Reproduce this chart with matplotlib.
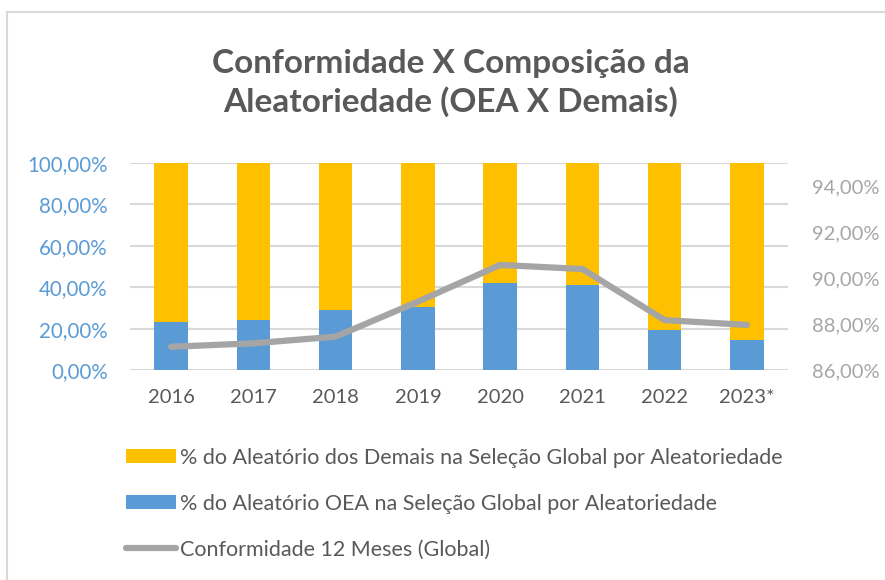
import matplotlib
matplotlib.use("Agg")
import matplotlib.pyplot as plt
from matplotlib.patches import Patch
from matplotlib.lines import Line2D
from matplotlib.ticker import FuncFormatter, FixedLocator
import numpy as np

plt.rcParams['font.family'] = ['Lato', 'DejaVu Sans']

years = ["2016", "2017", "2018", "2019", "2020", "2021", "2022", "2023*"]
oea_pct = [23.3, 24.0, 29.1, 30.4, 42.0, 41.3, 19.4, 14.3]
demais_pct = [100 - v for v in oea_pct]
conformidade = [87.01, 87.16, 87.45, 88.97, 90.57, 90.39, 88.17, 87.96]

title = "Conformidade X Composição da\nAleatoriedade (OEA X Demais)"
lbl_demais = "% do Aleatório dos Demais na Seleção Global por Aleatoriedade"
lbl_oea = "% do Aleatório OEA na Seleção Global por Aleatoriedade"
lbl_conf = "Conformidade 12 Meses (Global)"

c_yellow = "#FFC000"
c_blue = "#5B9BD5"
c_gray_line = "#A5A5A5"
c_text = "#595959"
c_grid = "#D9D9D9"

W, H = 885, 580
fig = plt.figure(figsize=(W / 100, H / 100), dpi=100)
ax = fig.add_axes([130 / W, 1 - 370 / H, (788 - 130) / W, (370 - 163) / H])

x = np.arange(len(years))
bw = 0.41
ax.bar(x, oea_pct, width=bw, color=c_blue, zorder=2)
ax.bar(x, demais_pct, width=bw, bottom=oea_pct, color=c_yellow, zorder=2)
ax.set_ylim(0, 100)
ax.set_xlim(-0.5, len(years) - 0.5)
ax.yaxis.set_major_locator(FixedLocator([0, 20, 40, 60, 80, 100]))
fmt = FuncFormatter(lambda v, p: f"{v:.2f}%".replace('.', ','))
ax.yaxis.set_major_formatter(fmt)
ax.grid(axis='y', color=c_grid, linewidth=1.5, zorder=0)
ax.set_axisbelow(True)
for s in ax.spines.values():
    s.set_visible(False)
ax.set_xticks(x)
ax.set_xticklabels(years)
ax.tick_params(axis='x', length=0, pad=14, labelsize=14.5, labelcolor=c_text)
ax.tick_params(axis='y', length=0, pad=16, labelsize=14.8, labelcolor=c_blue)

ax2 = ax.twinx()
ax2.plot(x, conformidade, color=c_gray_line, linewidth=4.5, solid_capstyle='round',
         solid_joinstyle='round', zorder=3)
ax2.set_ylim(86, 95)
ax2.yaxis.set_major_locator(FixedLocator([86, 88, 90, 92, 94]))
ax2.yaxis.set_major_formatter(fmt)
ax2.tick_params(axis='y', length=0, pad=17, labelsize=14.5, labelcolor="#A6A6A6")
for s in ax2.spines.values():
    s.set_visible(False)

fig.text(451 / W, 1 - 83 / H, title, ha='center', va='center', fontsize=24,
         fontweight='bold', color=c_text, linespacing=1.3)

handles = [Patch(facecolor=c_yellow, edgecolor='none'),
           Patch(facecolor=c_blue, edgecolor='none'),
           Line2D([0], [0], color=c_gray_line, linewidth=4.5, solid_capstyle='round')]
fig.legend(handles, [lbl_demais, lbl_oea, lbl_conf], loc='upper left',
           bbox_to_anchor=(115 / W, 1 - 437 / H), frameon=False, fontsize=15.5,
           labelcolor=c_text, handlelength=2.35, handleheight=0.65, handletextpad=0.15,
           labelspacing=1.2, borderpad=0)

# chart area border (top & left)
fig.add_artist(Line2D([7 / W, 1.0], [1 - 12 / H, 1 - 12 / H], color="#D9D9D9", linewidth=1.5))
fig.add_artist(Line2D([7 / W, 7 / W], [0.0, 1 - 12 / H], color="#D9D9D9", linewidth=1.5))

fig.savefig("out.png", dpi=100)
